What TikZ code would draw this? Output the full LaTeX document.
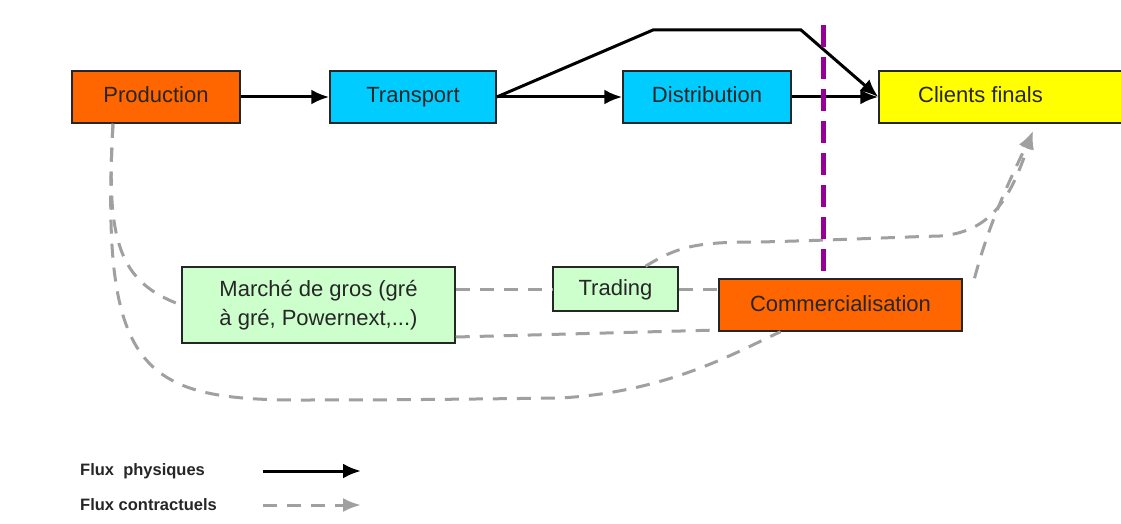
\documentclass[tikz,border=0pt]{standalone}
\usepackage{fontspec}
\setmainfont{Liberation Sans}
\usetikzlibrary{arrows.meta}
\definecolor{orng}{RGB}{255,102,0}
\definecolor{cyanb}{RGB}{0,204,255}
\definecolor{yel}{RGB}{255,255,0}
\definecolor{lgreen}{RGB}{204,255,204}
\definecolor{purp}{RGB}{150,0,150}
\definecolor{dgray}{RGB}{160,160,160}
\tikzset{
 box/.style={draw=black!85, line width=1.5pt, minimum height=52pt, inner sep=0pt, font=\fontsize{22}{29}\selectfont, text=black!85},
 oneline/.style={text height=16pt, text depth=4pt},
 phys/.style={black, line width=3pt, -{Latex[length=18pt,width=15pt]}},
 contr/.style={dgray, line width=3pt, dash pattern=on 14pt off 10pt},
 carrow/.style={contr, -{Latex[length=18pt,width=14pt]}},
 divider/.style={purp, line width=5pt, dash pattern=on 22pt off 10pt},
 legtext/.style={anchor=west, font=\bfseries\fontsize{16.5}{18}\selectfont, text=black!85, inner sep=0pt}
}
\begin{document}
\begin{tikzpicture}[x=1pt,y=-1pt]
\path[fill=white, use as bounding box] (0,0) rectangle (1121,524);

% top row
\node[box, oneline, fill=orng, minimum width=168pt] (pr) at (156,97) {Production};
\node[box, oneline, fill=cyanb, minimum width=166pt] (tr) at (413,97) {Transport};
\node[box, oneline, fill=cyanb, minimum width=168pt] (di) at (707,97) {Distribution};
\node[box, fill=yel, minimum width=251pt, label={[xshift=-24pt, oneline, font=\fontsize{22}{29}\selectfont, text=black!85]center:Clients finals}] (cf) at (1004.5,97) {};

% lower row
\node[box, fill=lgreen, minimum width=273pt, minimum height=76pt, align=center] (mg) at (318.5,305) {Marché de gros (gré\\à gré, Powernext,...)};
\node[box, oneline, fill=lgreen, minimum width=125pt, minimum height=44pt] (tg) at (615.5,289) {Trading};
\node[box, oneline, fill=orng, minimum width=243pt] (cm) at (840.5,305) {Commercialisation};

% helper coordinates
\coordinate (up1) at (653,30);
\coordinate (up2) at (801,30);
\coordinate (cfin) at (1033,131);
\coordinate (dvtop) at (823,25);
\coordinate (lg1s) at (263,471);
\coordinate (lg1e) at (361,471);
\coordinate (lg2s) at (263,505);
\coordinate (lg2e) at (361,505);

% physical flows
\draw[phys] (pr.east) -- (tr.west);
\draw[phys] (tr.east) -- (di.west);
\draw[phys] (di.east) -- (cf.west);
\draw[phys] (tr.east) -- (up1) -- (up2) -- (cf.west);

% contractual flows
\draw[contr] ([xshift=-43pt]pr.south) .. controls (106,240) and (118,282) .. (mg.west);
\draw[contr] ([xshift=-43pt]pr.south) .. controls (100,370) and (140,400) .. (300,400)
   .. controls (400,400) and (480,399) .. (560,398)
   .. controls (670,392) and (740,350) .. ([xshift=-60pt]cm.south);
\draw[contr] (tg.west -| mg.east) -- (tg.west);
\draw[contr] (tg.east) -- (tg.east -| cm.west);
\draw[contr] ([yshift=-32pt]mg.east) -- ([yshift=-25pt]cm.west);
\draw[carrow] ([xshift=30pt]tg.north) .. controls (680,245) and (700,242) .. (760,242)
   .. controls (840,240) and (900,237) .. (940,236)
   .. controls (990,232) and (1010,200) .. (cfin);
\draw[carrow] ([xshift=134pt]cm.north) .. controls (990,220) and (1010,180) .. (cfin);

% divider
\draw[divider] (dvtop) -- (dvtop |- cm.north);

% legend
\node[legtext] (lt1) at (80,471) {Flux\ \ physiques};
\node[legtext] (lt2) at (80,505) {Flux contractuels};
\draw[phys] (lg1s) -- (lg1e);
\draw[carrow] (lg2s) -- (lg2e);
\end{tikzpicture}
\end{document}
